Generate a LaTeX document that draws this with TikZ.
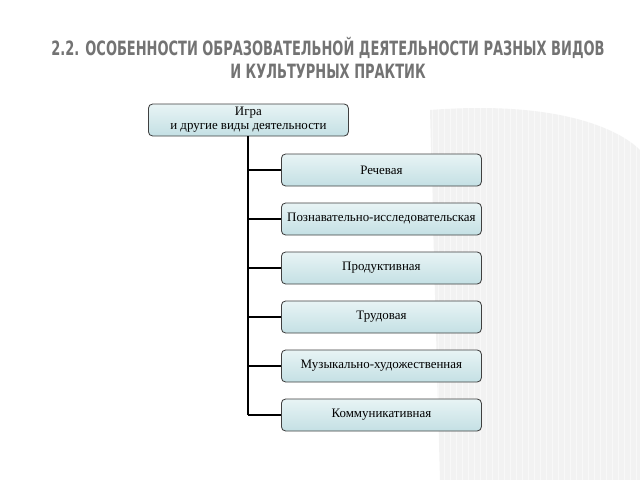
\documentclass[tikz,border=0pt]{standalone}
\usepackage{fontspec}
\setmainfont{Liberation Serif}
\newfontfamily\titlefont{DejaVu Sans}[FakeStretch=0.66]
\definecolor{boxtop}{RGB}{232,244,245}
\definecolor{boxbot}{RGB}{196,224,228}
\begin{document}
\begin{tikzpicture}[x=0.025cm,y=-0.025cm,
  box/.style={draw=black!75,line width=0.6pt,rounded corners=3pt,top color=boxtop,bottom color=boxbot,
    minimum width=200*0.025cm,minimum height=32*0.025cm,inner sep=1pt,
    font=\fontsize{9.2pt}{10pt}\selectfont,align=center,anchor=west},
  link/.style={draw=black,line width=1.1pt}]
\useasboundingbox (0,0) rectangle (640,480);
\fill[white] (0,0) rectangle (640,480);
\fill[black!5] (430,110) .. controls (560,100) and (620,130) .. (640,150) -- (640,480) -- (440,480) -- cycle;
\foreach \i in {0,6,...,636} {\draw[white,line width=0.6pt,opacity=0.5] (\i,90) -- (\i,480);}
\node[font=\titlefont\bfseries\fontsize{14pt}{16pt}\selectfont,text=black!55,align=center] (title) at (328,58)
  {2.2. ОСОБЕННОСТИ ОБРАЗОВАТЕЛЬНОЙ ДЕЯТЕЛЬНОСТИ РАЗНЫХ ВИДОВ\\И КУЛЬТУРНЫХ ПРАКТИК};
\node[box] (top) at (148,120) {Игра\\и другие виды деятельности};
\node[box] (c1) at (281,170) {Речевая};
\node[box] (c2) at (281,219) {Познавательно-исследовательская};
\node[box] (c3) at (281,268) {Продуктивная};
\node[box] (c4) at (281,317) {Трудовая};
\node[box] (c5) at (281,366) {Музыкально-художественная};
\node[box] (c6) at (281,415) {Коммуникативная};
\coordinate (trunk) at (248,0);
\draw[link] (trunk |- top.south) -- (trunk |- c6.west);
\foreach \c in {c1,c2,c3,c4,c5,c6} {\draw[link] (trunk |- \c.west) -- (\c.west);}
\end{tikzpicture}
\end{document}
